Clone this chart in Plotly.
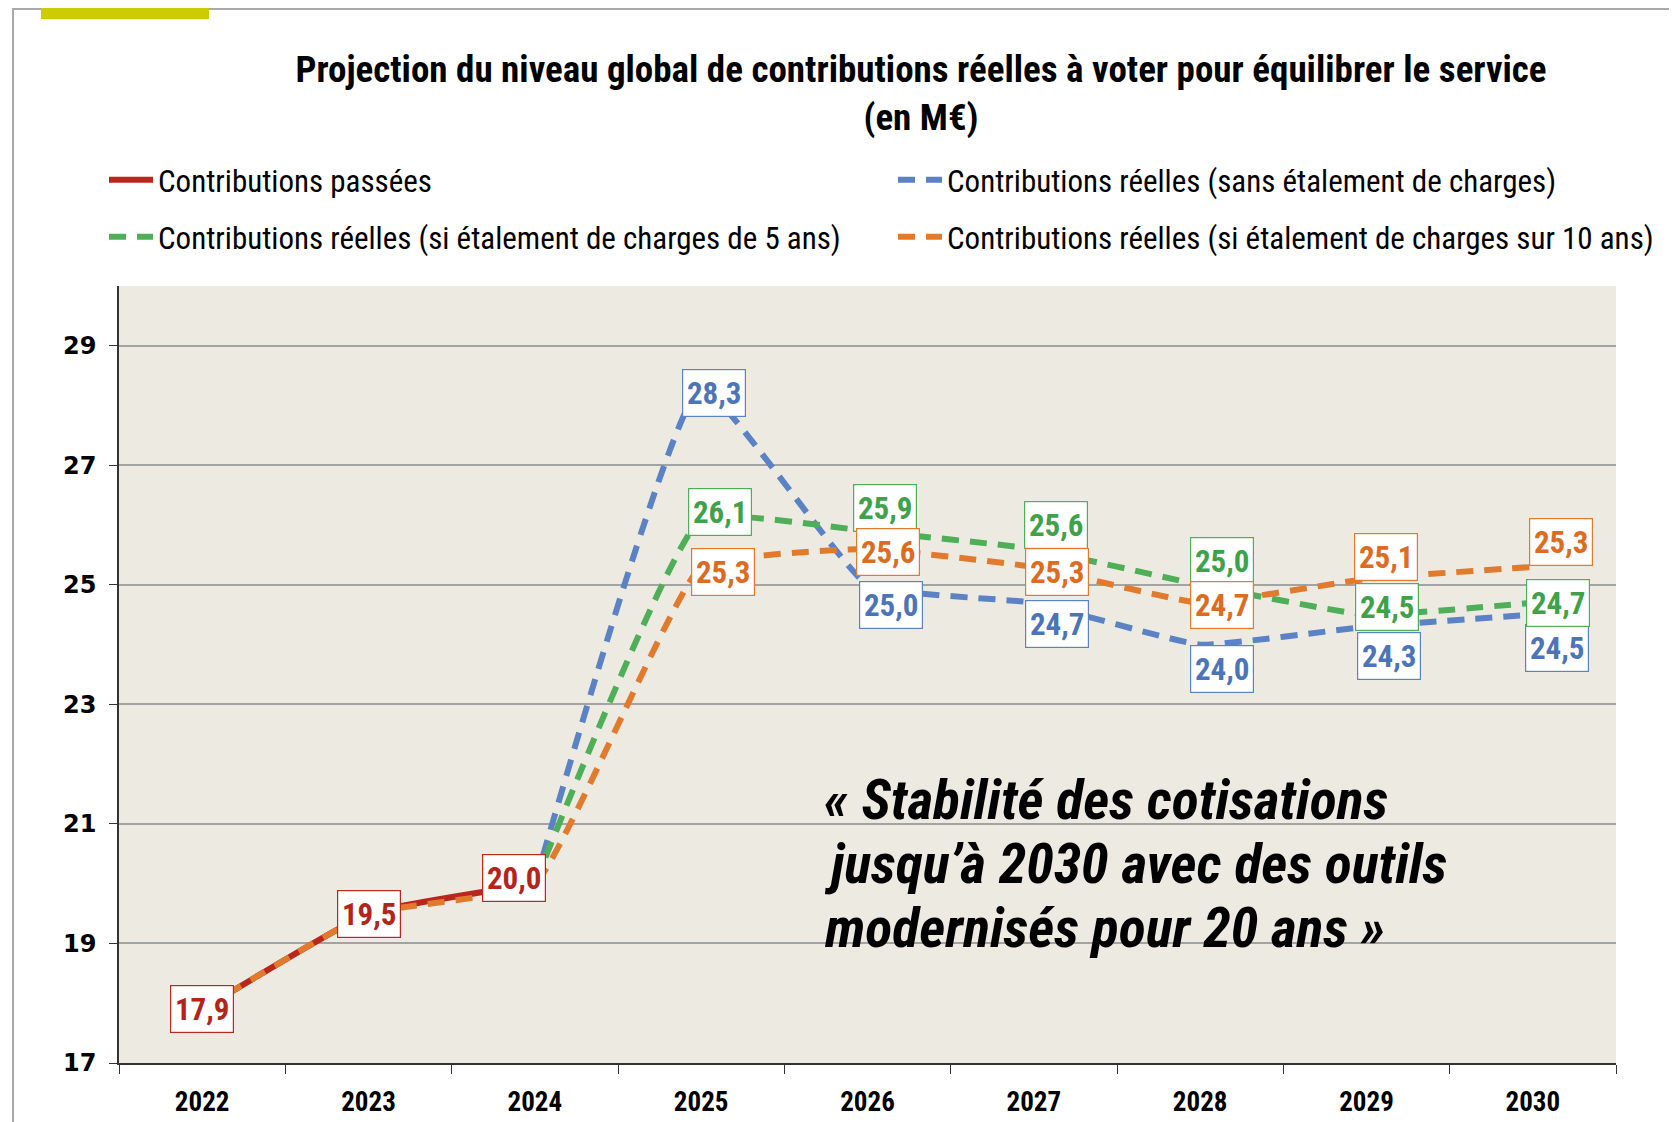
import plotly.graph_objects as go

# ---------------- data ----------------
years = ["2022", "2023", "2024", "2025", "2026", "2027", "2028", "2029", "2030"]
contrib_passees = [17.9, 19.5, 20.0, None, None, None, None, None, None]
contrib_sans_etalement = [None, None, 20.0, 28.3, 25.0, 24.7, 24.0, 24.3, 24.5]
contrib_etalement_5 = [None, None, 20.0, 26.1, 25.9, 25.6, 25.0, 24.5, 24.7]
contrib_etalement_10 = [17.9, 19.5, 20.0, 25.3, 25.6, 25.3, 24.7, 25.1, 25.3]

series_names = [
    "Contributions passées",
    "Contributions réelles (sans étalement de charges)",
    "Contributions réelles (si étalement de charges de 5 ans)",
    "Contributions réelles (si étalement de charges sur 10 ans)",
]
title_text = "Projection du niveau global de contributions réelles à voter pour équilibrer le service<br>(en M€)"
note_lines = [
    "« Stabilité des cotisations",
    "jusqu’à 2030 avec des outils",
    "modernisés pour 20 ans »",
]

# which years get a value label for each series
label_from = [0, 3, 3, 3]
label_to = [3, 9, 9, 9]

# ---------------- styles ----------------
OFF = 8  # page body margin
FIG_W, FIG_H = 1677, 1122
L, T = 111, 278
PW, PH = 1497.5, 777
R, B = FIG_W - L - PW, FIG_H - T - PH

NARROW = "Liberation Sans Narrow, Arial Narrow, Roboto Condensed, sans-serif"
line_colors = ["#B8261C", "#5A82C4", "#4EAF58", "#E27A2E"]
text_colors = ["#B3241B", "#4C74B9", "#3FA24A", "#DB6C22"]
dash_style = "17px,11px"

# label offsets in px (dx, dy-up) per series, per year index
offsets = [
    [(0, 0), (0, 0), (-21, 6)] + [(0, 0)] * 6,
    [(0, 0)] * 3 + [(13, -5), (23, -20), (23, -21), (22, -24), (22, -29), (24, -33)],
    [(0, 0)] * 3 + [(19, 7), (17, 23), (22, 24), (22, 24), (20, 8), (25, 0)],
    [(0, 0)] * 3 + [(22, -5), (20, -3), (23, -5), (22, -2), (19, 22), (28, 25)],
]
# legend placement (page px): (x of item, y of top)
legend_pos = [(104, 153), (893, 153), (104, 210), (893, 210)]


def px2x(px):
    return (px - OFF - L) / PW


def px2y(py):
    return (T + PH - (py - OFF)) / PH


fig = go.Figure()
all_series = [contrib_passees, contrib_sans_etalement, contrib_etalement_5, contrib_etalement_10]
legend_ids = ["legend", "legend2", "legend3", "legend4"]
for i, (vals, name) in enumerate(zip(all_series, series_names)):
    fig.add_trace(go.Scatter(
        x=years, y=vals, name=name, mode="lines",
        line=dict(color=line_colors[i], width=6,
                  dash="solid" if i == 0 else dash_style,
                  shape="spline", smoothing=0.35),
        hoverinfo="x+y", legend=legend_ids[i],
    ))

annotations = []
for i, vals in enumerate(all_series):
    for j in range(label_from[i], label_to[i]):
        v = vals[j]
        if v is None:
            continue
        dx, dy = offsets[i][j]
        annotations.append(dict(
            x=j, y=v, xref="x", yref="y",
            text=f"{v:.1f}".replace(".", ","), showarrow=False,
            xshift=dx, yshift=dy,
            font=dict(family=NARROW, size=31, color=text_colors[i], weight="bold"),
            bgcolor="white", bordercolor=line_colors[i], borderwidth=1.2, borderpad=4,
            width=54, height=38,
        ))

note_y = [800, 864, 928]
for k, line in enumerate(note_lines):
    annotations.append(dict(
        x=px2x(822), y=px2y(note_y[k]), xref="paper", yref="paper",
        xanchor="left", yanchor="middle", align="left", showarrow=False,
        text=line,
        font=dict(family=NARROW, size=56, color="black", weight="bold", style="italic"),
    ))

shapes = [
    dict(type="rect", xref="paper", yref="paper",
         x0=px2x(13), x1=px2x(1720), y0=px2y(1160), y1=px2y(9),
         line=dict(color="#A9A9A9", width=2), fillcolor="rgba(0,0,0,0)", layer="below"),
    dict(type="rect", xref="paper", yref="paper",
         x0=px2x(41), x1=px2x(209), y0=px2y(19), y1=px2y(-5),
         line=dict(width=0), fillcolor="#CCCC00", layer="above"),
]

legend_layout = {}
for i, lid in enumerate(legend_ids):
    lx, ly = legend_pos[i]
    legend_layout[lid] = dict(
        orientation="h", xref="container", yref="container",
        x=(lx - OFF) / FIG_W, y=1 - (ly - OFF) / FIG_H, xanchor="left", yanchor="top",
        itemwidth=44, font=dict(family=NARROW, size=31, color="black"),
        bgcolor="rgba(0,0,0,0)")

fig.update_layout(
    width=FIG_W, height=FIG_H,
    margin=dict(l=L, r=R, t=T, b=B, pad=0, autoexpand=False),
    paper_bgcolor="white", plot_bgcolor="#EDEAE2",
    title=dict(text=title_text, x=(921 - OFF) / FIG_W, xanchor="center",
               y=1 - 74 / FIG_H, yanchor="middle",
               font=dict(family=NARROW, size=37, color="black", weight="bold")),
    xaxis=dict(type="category", categoryorder="array", categoryarray=years,
               range=[-0.5, 8.5], showline=True, linecolor="#333333", linewidth=1.5,
               ticks="outside", tickson="boundaries", ticklen=9, tickcolor="#333333",
               tickwidth=1.2, showgrid=False,
               tickfont=dict(family=NARROW, size=27, color="black", weight="bold"),
               ticklabelstandoff=14),
    yaxis=dict(range=[17, 30], tick0=17, dtick=2, showline=True, linecolor="#333333",
               linewidth=1.5, ticks="outside", ticklen=8, tickcolor="#333333",
               showgrid=True, gridcolor="#A3A3A3", gridwidth=1.5, zeroline=False,
               tickfont=dict(family="DejaVu Sans", size=24, color="black", weight="bold"),
               ticklabelstandoff=8),
    annotations=annotations,
    shapes=shapes,
    showlegend=True,
    **legend_layout,
)

fig.write_html("out.html")
